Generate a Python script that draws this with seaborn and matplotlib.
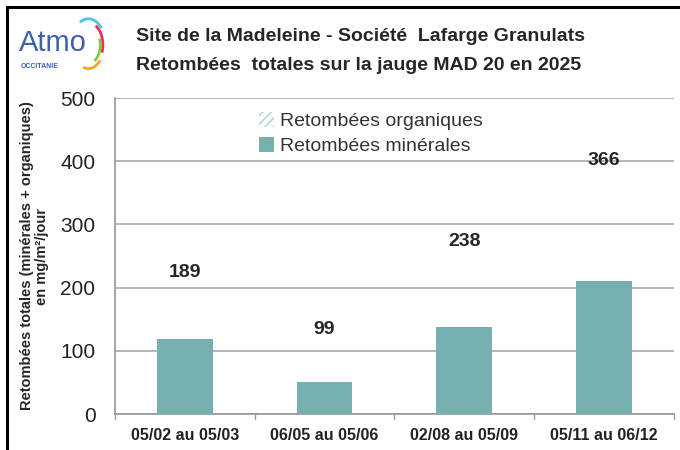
import matplotlib
matplotlib.use("Agg")
import matplotlib.pyplot as plt
import matplotlib.patches as mpatches
import numpy as np
import pandas as pd
import seaborn as sns

periodes = ["05/02 au 05/03", "06/05 au 05/06", "02/08 au 05/09", "05/11 au 06/12"]
totales = [189, 99, 238, 366]
minerales = [119, 51, 137, 210]

TEAL = "#76b0b0"
FONT = ["Liberation Sans Narrow", "Liberation Sans", "DejaVu Sans"]


def main() -> None:
    sns.set_theme(style="white")
    plt.rcParams["font.family"] = FONT

    df = pd.DataFrame({"periode": periodes, "totale": totales, "minerale": minerales})

    fig = plt.figure(figsize=(6.8, 4.5), dpi=100)
    ax = fig.add_axes([0.169, 0.080, 0.822, 0.702])

    # total bar: the organic part on top is not visible in the source (blank hatch)
    sns.barplot(data=df, x="periode", y="totale", ax=ax, fill=False, width=0.4,
                edgecolor="none", linewidth=0, zorder=2)
    sns.barplot(data=df, x="periode", y="minerale", ax=ax, color=TEAL, width=0.4,
                edgecolor="none", linewidth=0, saturation=1, zorder=3)

    ax.bar_label(ax.containers[0], labels=[str(v) for v in totales], padding=10,
                 fontsize=14, fontweight="bold", color="#262626", zorder=4)

    ax.set_ylim(0, 500)
    ax.set_yticks(range(0, 501, 100))
    ax.set_xlim(-0.5, 3.5)
    ax.yaxis.grid(True, color="#b0b0b0", linewidth=1.3, zorder=0)
    ax.set_axisbelow(True)
    for side in ["top", "right"]:
        ax.spines[side].set_visible(False)
    ax.spines["left"].set_color("#999999")
    ax.spines["bottom"].set_color("#999999")
    ax.tick_params(axis="y", labelsize=15, colors="#222222", length=0, pad=14)
    ax.tick_params(axis="x", labelsize=11.5, colors="#222222", length=0, pad=10)
    for lab in ax.get_xticklabels():
        lab.set_fontweight("bold")
    # category separators below the axis
    for xb in np.arange(-0.5, 4.0, 1.0):
        ax.plot([xb, xb], [0, -8], color="#999999", lw=1, clip_on=False)
    ax.set_xlabel("")
    ax.set_ylabel("Retombées totales (minérales + organiques)\nen mg/m²/jour",
                  fontsize=10.5, fontweight="bold", labelpad=8, linespacing=1.1)

    org = mpatches.Patch(facecolor="white", edgecolor="#a8cfcf", hatch="////",
                         linewidth=0, label="Retombées organiques")
    mine = mpatches.Patch(facecolor=TEAL, edgecolor="none", label="Retombées minérales")
    leg = fig.legend(handles=[org, mine], loc="upper left", bbox_to_anchor=(0.355, 0.79),
                     frameon=False, fontsize=14, handlelength=0.8, handleheight=0.8,
                     handletextpad=0.3, labelspacing=0.35)
    for t in leg.get_texts():
        t.set_color("#333333")

    fig.text(0.20, 0.918, "Site de la Madeleine - Société  Lafarge Granulats",
             fontsize=14, fontweight="bold", va="center", ha="left")
    fig.text(0.20, 0.855, "Retombées  totales sur la jauge MAD 20 en 2025",
             fontsize=14, fontweight="bold", va="center", ha="left")

    # logo
    fig.text(0.028, 0.905, "Atmo", fontsize=21, color="#3f5fae", va="center", ha="left",
             family=["Liberation Sans", "DejaVu Sans"])
    fig.text(0.030, 0.852, "OCCITANIE", fontsize=5, color="#3f5fae", fontweight="bold",
             va="center", ha="left", family=["Liberation Sans", "DejaVu Sans"])
    lax = fig.add_axes([0.10, 0.83, 0.06, 0.14])
    lax.set_axis_off()
    for r, col, t1, t2 in [(1.0, "#4fc3e8", 40, 120), (0.85, "#e8325a", -20, 60),
                           (0.7, "#8cc63f", -60, 20), (0.9, "#f5a623", -110, -40)]:
        lax.add_patch(mpatches.Arc((0, 0), 2 * r, 2 * r, theta1=t1, theta2=t2, color=col, lw=2))
    lax.set_xlim(-1.2, 1.2)
    lax.set_ylim(-1.2, 1.2)

    # outer frame (top and left only visible)
    fig.add_artist(plt.Line2D([0.010, 0.010], [0.0, 0.985], color="black", lw=2.2,
                              transform=fig.transFigure))
    fig.add_artist(plt.Line2D([0.010, 1.0], [0.985, 0.985], color="black", lw=2.2,
                              transform=fig.transFigure))

    fig.savefig("out.png", dpi=100)
    plt.close(fig)


if __name__ == "__main__":
    main()
